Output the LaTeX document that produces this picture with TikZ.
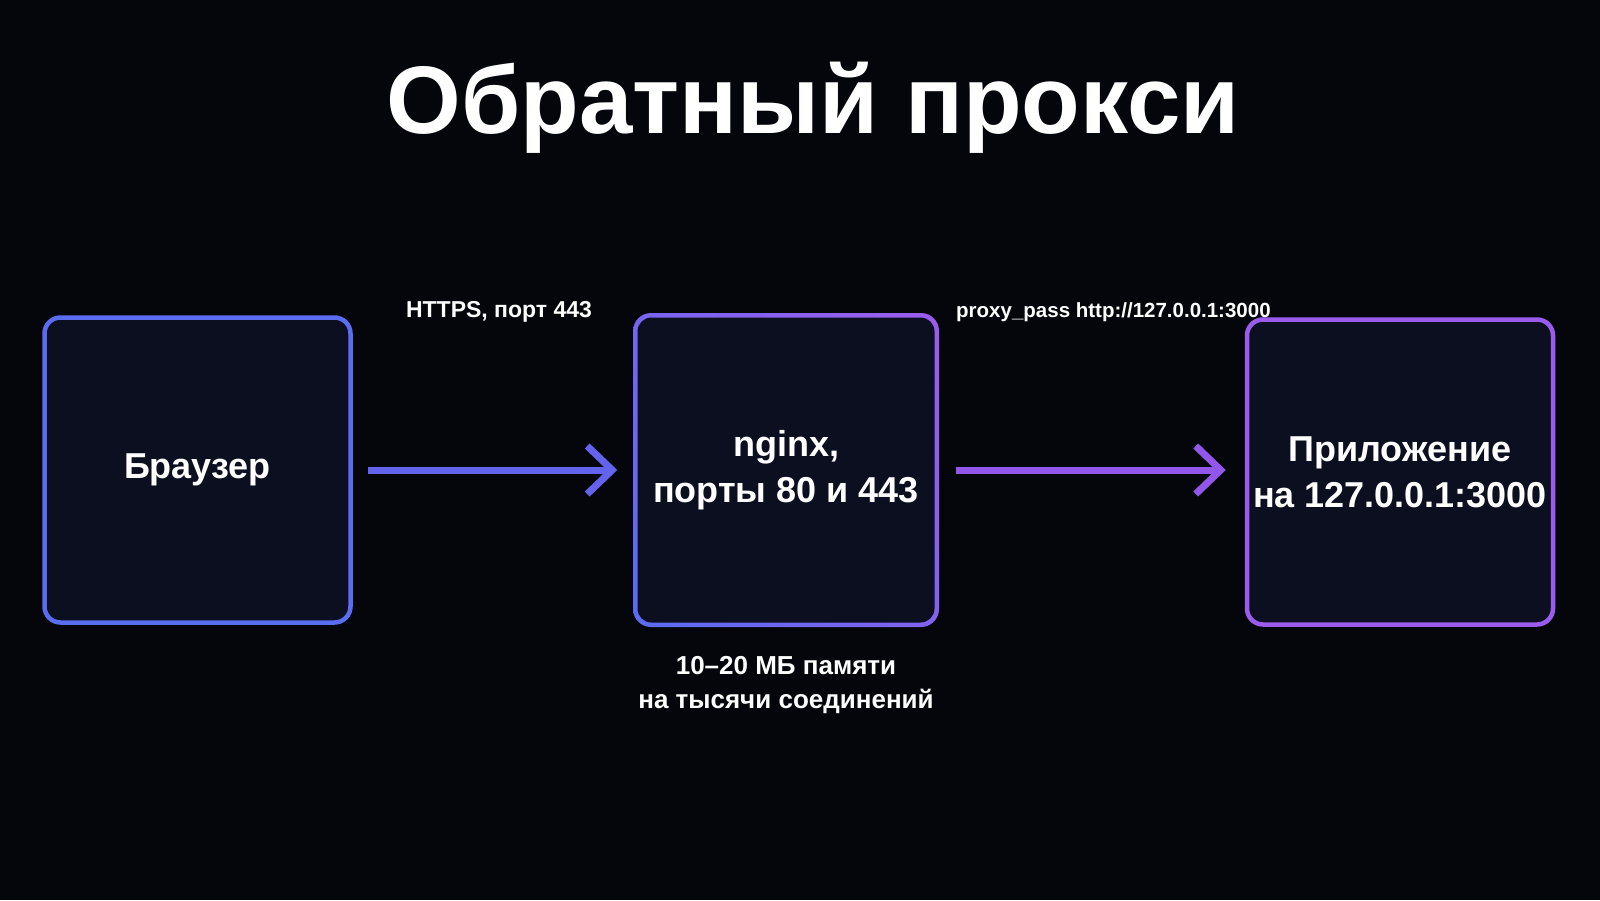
\documentclass[tikz,border=0pt]{standalone}
\usepackage{fontspec}
\setmainfont{Liberation Sans}
\usetikzlibrary{arrows.meta,backgrounds,shadings}
\definecolor{bg}{HTML}{05060B}
\definecolor{boxfill}{HTML}{0C0F20}
\definecolor{blueC}{HTML}{5A6CF0}
\definecolor{purpleC}{HTML}{9B5CEE}
\definecolor{arrowA}{HTML}{6363EE}
\definecolor{arrowB}{HTML}{9257EA}
\tikzset{
  box/.style={rectangle, rounded corners=16pt, line width=4.5pt, fill=boxfill,
    minimum width=306pt, minimum height=305pt, inner sep=0pt,
    text=white, align=center, font=\fontsize{36}{46}\selectfont\bfseries},
  conn/.style={line width=7pt, -{Straight Barb[length=25pt,width=48pt,line width=7pt]}},
  lbl/.style={text=white, font=\fontsize{23}{28}\selectfont\bfseries, inner sep=0pt},
  note/.style={text=white, align=center, font=\fontsize{26}{34}\selectfont\bfseries, inner sep=0pt},
  titl/.style={text=white, font=\fontsize{96}{110}\selectfont\bfseries, inner sep=0pt}
}
\begin{document}
\begin{tikzpicture}[x=1pt,y=-1pt]
\useasboundingbox (0,0) rectangle (1600,900);

\node[titl] (title) at (813,108) {Обратный прокси};

\node[box, draw=blueC] (b1) at (197.5,470) {Браузер};
\node[box, draw=none, fill=none, minimum width=297pt] (b2) at (786,470) {nginx,\\порты 80 и 443};
\node[box, draw=purpleC] (b3) at (1400,472) {Приложение\\на 127.0.0.1:3000};

\begin{scope}[on background layer]
  \fill[bg] (0,0) rectangle (1600,900);
  \shade[rounded corners=18pt, lower left=blueC, lower right=blueC!40!purpleC,
         upper left=blueC!55!purpleC, upper right=purpleC]
    ([shift={(-2.25pt,-2.25pt)}]b2.south west) rectangle ([shift={(2.25pt,2.25pt)}]b2.north east);
  \fill[boxfill, rounded corners=14pt]
    ([shift={(2.25pt,2.25pt)}]b2.south west) rectangle ([shift={(-2.25pt,-2.25pt)}]b2.north east);
\end{scope}

\draw[conn, arrowA, shorten <=15pt, shorten >=18pt] (b1.east) -- (b2.west);
\draw[conn, arrowB, shorten <=19pt, shorten >=19pt] (b2.east) -- (b3.west |- b2.east);

\node[lbl] (l1) at (499,312) {HTTPS, порт 443};
\node[lbl, anchor=west, font=\fontsize{20.5}{26}\selectfont\bfseries] (l2) at (956,312) {proxy\_pass http://127.0.0.1:3000};

\node[note] (n1) at (786,685) {10–20 МБ памяти\\на тысячи соединений};
\end{tikzpicture}
\end{document}
